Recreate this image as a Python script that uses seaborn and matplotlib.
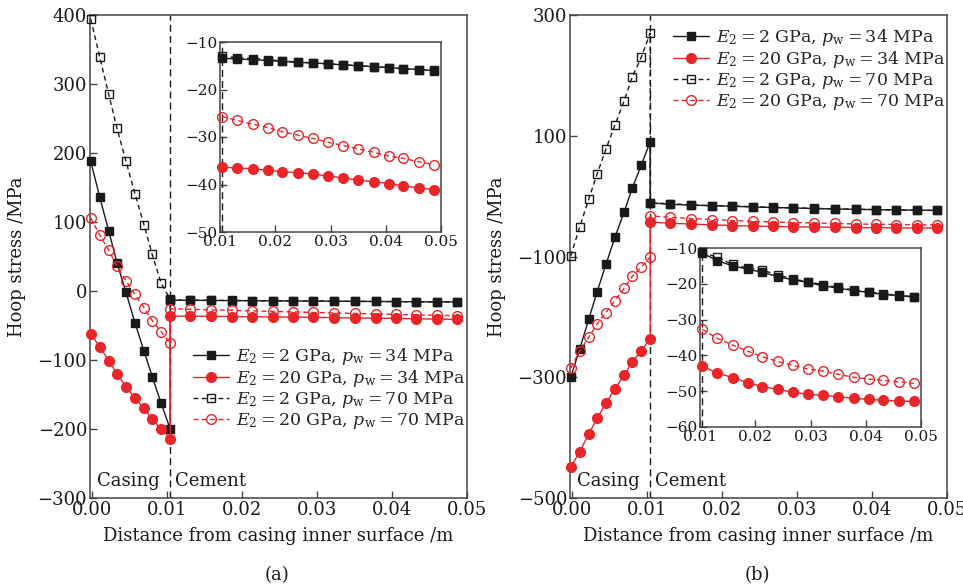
import numpy as np
import pandas as pd
import matplotlib
matplotlib.use("Agg")
import matplotlib.pyplot as plt
import seaborn as sns

# ---------------- data ----------------
x_casing = [-0.0002, 0.0010, 0.0022, 0.0033, 0.0045, 0.0057, 0.0069, 0.0080, 0.0092, 0.0104]
x_cement = [0.0104, 0.0131, 0.0159, 0.0186, 0.0213, 0.0241, 0.0268, 0.0295,
            0.0323, 0.0350, 0.0378, 0.0405, 0.0432, 0.0460, 0.0487]
interface_x = 0.0104

labels = [r"$E_2 = 2$ GPa, $p_{\rm w} = 34$ MPa",
          r"$E_2 = 20$ GPa, $p_{\rm w} = 34$ MPa",
          r"$E_2 = 2$ GPa, $p_{\rm w} = 70$ MPa",
          r"$E_2 = 20$ GPa, $p_{\rm w} = 70$ MPa"]

# panel (a)
a_sq_fill_cas = [188, 136, 87, 41, -2, -46, -87, -124, -163, -200]
a_sq_fill_cem = [-13.4, -13.6, -13.7, -13.9, -14.1, -14.3, -14.4, -14.6, -14.8, -15.0, -15.2, -15.4, -15.6, -15.8, -16.0]
a_ci_fill_cas = [-62, -81, -101, -120, -139, -155, -170, -186, -200, -214]
a_ci_fill_cem = [-36.4, -36.5, -36.7, -37.0, -37.3, -37.5, -37.8, -38.2, -38.6, -39.1, -39.4, -39.8, -40.3, -40.7, -41.1]
a_sq_open_cas = [394, 339, 285, 236, 188, 141, 96, 53, 11, -12]
a_sq_open_cem = [-13.0, -13.3, -13.5, -13.7, -14.0, -14.2, -14.4, -14.6, -14.8, -15.0, -15.2, -15.4, -15.7, -15.8, -15.9]
a_ci_open_cas = [106, 81, 59, 36, 15, -5, -24, -43, -59, -76]
a_ci_open_cem = [-25.7, -26.5, -27.3, -28.0, -28.9, -29.6, -30.3, -31.1, -31.8, -32.5, -33.2, -34.0, -34.5, -35.2, -35.8]

# panel (b)
b_sq_fill_cas = [-300, -253, -204, -159, -113, -68, -27, 13, 51, 90]
b_sq_fill_cem = [-11.4, -13.5, -15.0, -15.9, -16.8, -18.0, -18.9, -19.6, -20.6, -21.2, -21.9, -22.4, -23.0, -23.3, -23.7]
b_ci_fill_cas = [-449, -423, -394, -368, -343, -319, -297, -275, -256, -236]
b_ci_fill_cem = [-43.0, -44.9, -46.2, -47.6, -48.7, -49.5, -50.3, -50.8, -51.2, -51.5, -52.0, -52.3, -52.5, -52.8, -52.8]
b_sq_open_cas = [-99, -51, -5, 36, 78, 118, 157, 197, 230, 270]
b_sq_open_cem = [-11.2, -12.6, -14.6, -15.6, -16.2, -17.5, -18.7, -19.4, -20.3, -21.0, -21.7, -22.3, -22.8, -23.2, -23.6]
b_ci_open_cas = [-285, -256, -234, -212, -193, -173, -153, -133, -118, -101]
b_ci_open_cem = [-32.7, -35.2, -37.1, -38.8, -40.4, -41.7, -42.8, -43.8, -44.4, -45.3, -46.1, -46.6, -47.0, -47.4, -47.8]

main_xticks = [0.00, 0.01, 0.02, 0.03, 0.04, 0.05]
inset_xticks = [0.01, 0.02, 0.03, 0.04, 0.05]
a_yticks = [-300, -200, -100, 0, 100, 200, 300, 400]
b_yticks = [-500, -300, -100, 100, 300]
a_inset_yticks = [-50, -40, -30, -20, -10]
b_inset_yticks = [-60, -50, -40, -30, -20, -10]

# ---------------- style ----------------
sns.set_style("ticks")
plt.rcParams["font.family"] = ["DejaVu Serif"]
plt.rcParams["mathtext.fontset"] = "dejavuserif"
plt.rcParams["axes.unicode_minus"] = True

BLACK = "#1a1a1a"
RED = "#e8262a"
SPINE = "#444444"

styles = [
    dict(color=BLACK, marker="s", ls="-", mfc=BLACK, mec=BLACK, ms=6),
    dict(color=RED, marker="o", ls="-", mfc=RED, mec=RED, ms=7),
    dict(color=BLACK, marker="s", ls=(0, (3.5, 2.5)), mfc="none", mec=BLACK, ms=6),
    dict(color=RED, marker="o", ls=(0, (3.5, 2.5)), mfc="none", mec=RED, ms=7),
]

fig = plt.figure(figsize=(9.63, 5.88), dpi=100)


def style_axes(ax, fs, lw=1.1):
    for s in ax.spines.values():
        s.set_visible(True)
        s.set_color(SPINE)
        s.set_linewidth(lw)
    ax.tick_params(direction="in", length=5, width=1, color=SPINE,
                   labelsize=fs, labelcolor=BLACK, pad=2,
                   top=False, right=False)


def draw_panel(rect, inset_rect, series, yticks, ylim, inset_yticks, inset_ylim,
               legend_anchor, tag, tag_x):
    ax = fig.add_axes(rect)
    for (cas, cem), st, lab in zip(series, styles, labels):
        xs = x_casing + x_cement
        ys = cas + cem
        df = pd.DataFrame({"x": xs, "y": ys})
        sns.lineplot(data=df, x="x", y="y", ax=ax, estimator=None, sort=False,
                     color=st["color"], linestyle=st["ls"], marker=st["marker"],
                     markersize=st["ms"], markerfacecolor=st["mfc"],
                     markeredgecolor=st["mec"], markeredgewidth=1.0,
                     linewidth=1.0, label=lab, clip_on=False, zorder=3)
    ax.axvline(interface_x, color=BLACK, ls=(0, (5, 3)), lw=1.0, zorder=2)
    ax.set_xlim(-0.0003, 0.05)
    ax.set_ylim(*ylim)
    ax.set_xticks(main_xticks)
    ax.set_xticklabels([f"{v:.2f}" for v in main_xticks])
    ax.set_yticks(yticks)
    ax.set_yticklabels([f"{v:d}".replace("-", "\u2212") for v in yticks])
    style_axes(ax, 13)
    ax.set_xlabel("Distance from casing inner surface /m", fontsize=13, color=BLACK, labelpad=6)
    ax.set_ylabel("Hoop stress /MPa", fontsize=13, color=BLACK)
    ax.yaxis.set_label_coords(-0.17, 0.5)
    ax.text(0.019, 0.036, "Casing", transform=ax.transAxes, fontsize=13,
            va="center", ha="left", color=BLACK)
    ax.text(0.226, 0.036, "Cement", transform=ax.transAxes, fontsize=13,
            va="center", ha="left", color=BLACK)
    ax.legend(loc="upper left", bbox_to_anchor=legend_anchor,
              bbox_transform=fig.transFigure, frameon=False, fontsize=12.5,
              handlelength=2.1, handletextpad=0.4, labelspacing=0.05,
              borderpad=0, borderaxespad=0, numpoints=1)
    fig.text(tag_x, 1 - 575 / 588, tag, fontsize=13, ha="center", va="center", color=BLACK)

    ins = fig.add_axes(inset_rect)
    ins.set_facecolor("white")
    for (cas, cem), st in zip(series, styles):
        df = pd.DataFrame({"x": x_cement, "y": cem})
        sns.lineplot(data=df, x="x", y="y", ax=ins, estimator=None, sort=False,
                     color=st["color"], linestyle=st["ls"], marker=st["marker"],
                     markersize=st["ms"], markerfacecolor=st["mfc"],
                     markeredgecolor=st["mec"], markeredgewidth=1.0,
                     linewidth=1.0, legend=False, clip_on=False, zorder=3)
    ins.axvline(interface_x, color=BLACK, ls=(0, (5, 3)), lw=1.0, zorder=2)
    ins.set_xlim(0.01, 0.05)
    ins.set_ylim(*inset_ylim)
    ins.set_xticks(inset_xticks)
    ins.set_xticklabels([f"{v:.2f}" for v in inset_xticks])
    ins.set_yticks(inset_yticks)
    ins.set_yticklabels([f"{v:d}".replace("-", "\u2212") for v in inset_yticks])
    ins.set_xlabel("")
    ins.set_ylabel("")
    style_axes(ins, 11)
    return ax, ins


series_a = [(a_sq_fill_cas, a_sq_fill_cem), (a_ci_fill_cas, a_ci_fill_cem),
            (a_sq_open_cas, a_sq_open_cem), (a_ci_open_cas, a_ci_open_cem)]
series_b = [(b_sq_fill_cas, b_sq_fill_cem), (b_ci_fill_cas, b_ci_fill_cem),
            (b_sq_open_cas, b_sq_open_cem), (b_ci_open_cas, b_ci_open_cem)]

W, H = 963, 588
def frect(x0, y0, x1, y1):
    return [x0 / W, 1 - y1 / H, (x1 - x0) / W, (y1 - y0) / H]

draw_panel(frect(90, 15, 467, 498), frect(220, 42, 441, 232), series_a,
           a_yticks, (-300, 400), a_inset_yticks, (-50, -10),
           (193 / W, 1 - 346 / H), "(a)", 277 / W)
draw_panel(frect(570, 15, 947, 498), frect(700, 248, 921, 427), series_b,
           b_yticks, (-500, 300), b_inset_yticks, (-60, -10),
           (673 / W, 1 - 27 / H), "(b)", 757 / W)

fig.savefig("out.png", dpi=100)
